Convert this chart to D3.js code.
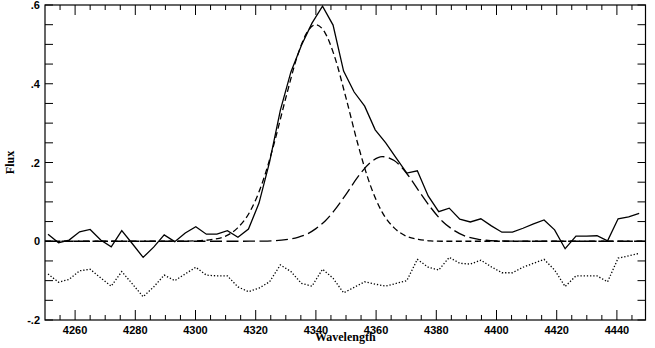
<!doctype html>
<html>
<head>
    <meta charset="utf-8">
    <title>Flux vs Wavelength</title>
    <script type="text/javascript" src="https://d3js.org/d3.v7.min.js"></script>
    <style>
        body { margin: 0; background: #fff; }
        .tick-label { font-family: "Liberation Sans", Arial, sans-serif; font-weight: bold; font-size: 11px; fill: #000; }
        .axis-title { font-family: "Liberation Serif", "Times New Roman", serif; font-weight: bold; font-size: 12px; fill: #000; }
    </style>
</head>
<body>
<script type="text/javascript">

    // observed spectrum
    var wavelength = [4251.0, 4254.5, 4258.0, 4261.5, 4265.0, 4268.5, 4272.0, 4275.5, 4279.1, 4282.6,
        4286.1, 4289.6, 4293.1, 4296.6, 4300.1, 4303.6, 4307.1, 4310.6, 4314.1, 4317.6,
        4321.1, 4324.6, 4328.2, 4331.7, 4335.2, 4338.7, 4342.2, 4345.7, 4349.2, 4352.7,
        4356.2, 4359.7, 4363.2, 4366.7, 4370.2, 4373.7, 4377.3, 4380.8, 4384.3, 4387.8,
        4391.3, 4394.8, 4398.3, 4401.8, 4405.3, 4408.8, 4412.3, 4415.8, 4419.3, 4422.8,
        4426.4, 4429.9, 4433.4, 4436.9, 4440.4, 4443.9, 4447.4];

    var flux = [0.018, -0.004, 0.003, 0.024, 0.030, 0.003, -0.014, 0.027, -0.007, -0.041,
        -0.015, 0.016, -0.001, 0.021, 0.037, 0.018, 0.018, 0.027, 0.010, 0.031,
        0.097, 0.201, 0.333, 0.430, 0.498, 0.554, 0.597, 0.549, 0.432, 0.379,
        0.343, 0.283, 0.250, 0.211, 0.173, 0.179, 0.115, 0.075, 0.084, 0.056,
        0.049, 0.057, 0.039, 0.023, 0.023, 0.033, 0.044, 0.054, 0.029, -0.019,
        0.013, 0.013, 0.014, 0.001, 0.057, 0.062, 0.071];

    // residuals, shifted down by 0.1
    var residual = [-0.083, -0.104, -0.097, -0.075, -0.071, -0.093, -0.114, -0.077, -0.109, -0.141,
        -0.116, -0.086, -0.100, -0.083, -0.066, -0.086, -0.088, -0.088, -0.116, -0.128,
        -0.119, -0.103, -0.060, -0.077, -0.107, -0.114, -0.071, -0.094, -0.131, -0.117,
        -0.103, -0.109, -0.114, -0.107, -0.100, -0.046, -0.066, -0.073, -0.041, -0.056,
        -0.058, -0.048, -0.065, -0.080, -0.080, -0.066, -0.056, -0.046, -0.073, -0.115,
        -0.088, -0.088, -0.088, -0.103, -0.043, -0.037, -0.031];

    // fitted components
    var fitWave = [4250, 4290, 4300, 4306, 4310, 4314, 4318, 4322, 4326, 4330,
        4334, 4337, 4340, 4343, 4346, 4350, 4354, 4358, 4362, 4366,
        4370, 4374, 4378, 4382, 4386, 4390, 4394, 4400, 4410, 4449.5];
    var narrowFit = [0, 0, 0.001, 0.005, 0.013, 0.034, 0.074, 0.144, 0.245, 0.364,
        0.474, 0.530, 0.550, 0.530, 0.474, 0.364, 0.245, 0.144, 0.074, 0.034,
        0.013, 0.005, 0.001, 0, 0, 0, 0, 0, 0, 0];
    var broadFit = [0, 0, 0, 0, 0, 0, 0.0001, 0.0004, 0.0014, 0.004,
        0.010, 0.018, 0.032, 0.051, 0.077, 0.119, 0.164, 0.199, 0.215, 0.205,
        0.174, 0.130, 0.087, 0.051, 0.027, 0.012, 0.005, 0.001, 0, 0];

    var xTicks = [4260, 4280, 4300, 4320, 4340, 4360, 4380, 4400, 4420, 4440];
    var yTicks = [-0.2, 0, 0.2, 0.4, 0.6];
    var yTickLabels = ["-.2", "0", ".2", ".4", ".6"];

    var width = 655, height = 348;
    var pLeft = 45, pRight = 645.5, pTop = 5, pBottom = 320;

    var x = d3.scaleLinear().domain([4250, 4449.5]).range([pLeft, pRight]);
    var y = d3.scaleLinear().domain([-0.2, 0.6]).range([pBottom, pTop]);

    var svg = d3.select("body")
        .append("svg")
        .attr("width", width)
        .attr("height", height);

    svg.append("clipPath").attr("id", "plot")
        .append("rect")
        .attr("x", pLeft).attr("y", pTop)
        .attr("width", pRight - pLeft).attr("height", pBottom - pTop);

    var plot = svg.append("g").attr("clip-path", "url(#plot)");

    function pts(xs, ys) {
        return xs.map(function(d, i) { return [d, ys[i]]; });
    }

    var lin = d3.line()
        .x(function(d) { return x(d[0]); })
        .y(function(d) { return y(d[1]); });

    var smooth = d3.line()
        .curve(d3.curveMonotoneX)
        .x(function(d) { return x(d[0]); })
        .y(function(d) { return y(d[1]); });

    plot.append("path")
        .attr("d", smooth(pts(fitWave, broadFit)))
        .attr("fill", "none")
        .attr("stroke", "#000")
        .attr("stroke-width", 1.3)
        .attr("stroke-dasharray", "12,4.5");

    plot.append("path")
        .attr("d", smooth(pts(fitWave, narrowFit)))
        .attr("fill", "none")
        .attr("stroke", "#000")
        .attr("stroke-width", 1.3)
        .attr("stroke-dasharray", "6,3.5");

    plot.append("path")
        .attr("d", lin(pts(wavelength, residual)))
        .attr("fill", "none")
        .attr("stroke", "#000")
        .attr("stroke-width", 1.3)
        .attr("stroke-dasharray", "1.3,1.9");

    plot.append("path")
        .attr("d", lin(pts(wavelength, flux)))
        .attr("fill", "none")
        .attr("stroke", "#000")
        .attr("stroke-width", 1.3)
        .attr("stroke-linejoin", "miter");

    // frame
    svg.append("rect")
        .attr("x", pLeft).attr("y", pTop)
        .attr("width", pRight - pLeft).attr("height", pBottom - pTop)
        .attr("fill", "none")
        .attr("stroke", "#000")
        .attr("stroke-width", 1.2);

    // ticks on all four sides, pointing inward
    var xMinor = d3.range(4255, 4449, 5);
    var yMinor = d3.range(-0.2, 0.6001, 0.05);
    var ticks = svg.append("g").attr("stroke", "#000").attr("stroke-width", 1);

    xMinor.forEach(function(v) {
        var major = xTicks.indexOf(v) >= 0;
        var len = major ? 10 : 5;
        ticks.append("line").attr("x1", x(v)).attr("x2", x(v))
            .attr("y1", pBottom).attr("y2", pBottom - len);
        ticks.append("line").attr("x1", x(v)).attr("x2", x(v))
            .attr("y1", pTop).attr("y2", pTop + len);
    });

    yMinor.forEach(function(v) {
        ticks.append("line").attr("x1", pLeft).attr("x2", pLeft + 8)
            .attr("y1", y(v)).attr("y2", y(v));
        ticks.append("line").attr("x1", pRight).attr("x2", pRight - 8)
            .attr("y1", y(v)).attr("y2", y(v));
    });

    svg.selectAll(".xlab")
        .data(xTicks)
        .enter()
        .append("text")
        .attr("class", "tick-label")
        .attr("x", function(d) { return x(d); })
        .attr("y", 334)
        .attr("text-anchor", "middle")
        .text(function(d) { return d; });

    svg.selectAll(".ylab")
        .data(yTicks)
        .enter()
        .append("text")
        .attr("class", "tick-label")
        .attr("x", 40)
        .attr("y", function(d) { return y(d) + 4; })
        .attr("text-anchor", "end")
        .text(function(d, i) { return yTickLabels[i]; });

    svg.append("text")
        .attr("class", "axis-title")
        .attr("x", (pLeft + pRight) / 2)
        .attr("y", 341)
        .attr("text-anchor", "middle")
        .text("Wavelength");

    svg.append("text")
        .attr("class", "axis-title")
        .attr("transform", "translate(14," + ((pTop + pBottom) / 2) + ") rotate(-90)")
        .attr("text-anchor", "middle")
        .text("Flux");

</script>
</body>
</html>
